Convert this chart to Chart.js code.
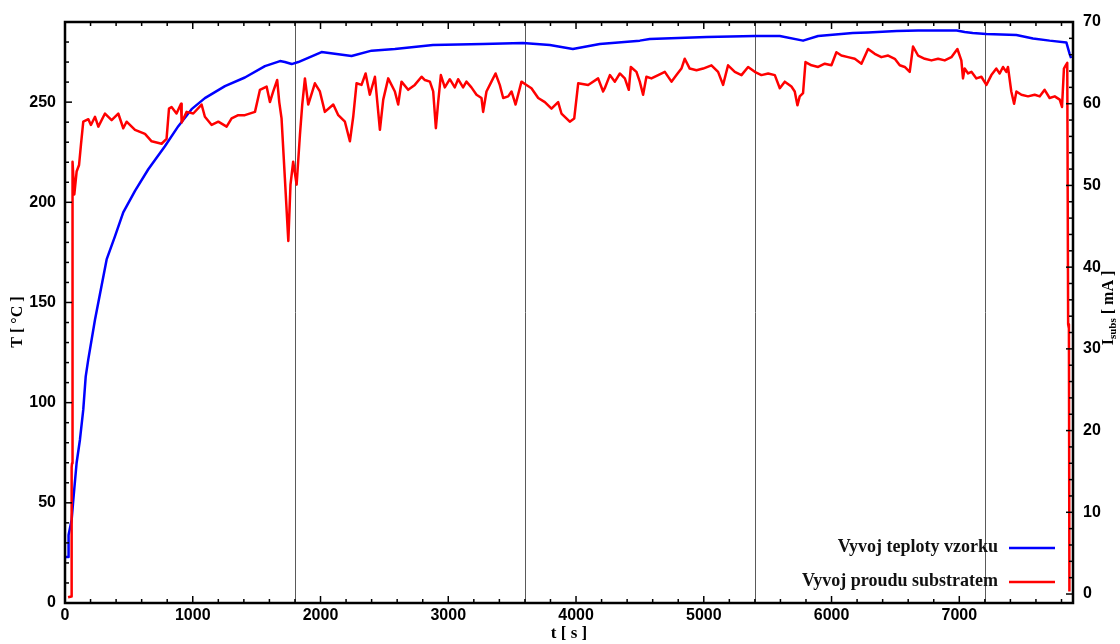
<!DOCTYPE html>
<html lang="cs">

<head>
    <meta charset="UTF-8">
    <title>Vyvoj teploty a proudu</title>
    <script src="https://cdn.jsdelivr.net/npm/chart.js"></script>
    <style>
        body {
            margin: 0;
            background: #fff;
        }
    </style>
</head>

<body>
    <canvas id="myChart" width="1120" height="644"></canvas>
</body>

</html>
<script>
    // teplota vzorku [°C]
    const tTemp = [0, 26, 28, 52, 65, 91, 117, 143, 162, 182, 235, 326, 391, 456, 548, 652, 782, 887, 991, 1095,
        1252, 1408, 1565, 1683, 1721, 1774, 1826, 2008, 2243, 2400, 2582, 2880, 3271, 3584, 3795, 3975, 4186,
        4499, 4577, 5023, 5399, 5595, 5777, 5895, 6166, 6286, 6510, 6677, 6980, 7042, 7105, 7212, 7447, 7577,
        7707, 7838, 7864, 7875];
    const temp = [23, 23, 34, 41.5, 51.5, 70, 81.5, 96.5, 113, 121.5, 141.5, 171.5, 183, 195, 205.7, 216.5, 228,
        238, 246.5, 252, 258, 262.3, 268, 270.5, 270, 269, 270, 275, 273, 275.7, 276.5, 278.5, 279, 279.5, 278.5,
        276.5, 279, 280.7, 281.5, 282.5, 283, 283, 280.7, 283, 284.5, 284.8, 285.5, 285.7, 285.8, 285, 284.5, 284,
        283.5, 281.8, 280.7, 279.8, 274, 272];

    // proud substratem [mA]
    const tCur = [24, 50, 52, 55, 58, 60, 73, 91, 110, 125, 143, 183, 203, 235, 261, 313, 365, 417, 456, 482,
        548, 626, 678, 756, 795, 814, 834, 873, 908, 913, 952, 1004, 1069, 1095, 1148, 1200, 1265, 1304, 1356,
        1408, 1487, 1526, 1578, 1604, 1630, 1661, 1677, 1695, 1721, 1748, 1765, 1786, 1813, 1839, 1857, 1878,
        1904, 1956, 1995, 2034, 2100, 2139, 2191, 2230, 2256, 2282, 2321, 2353, 2386, 2426, 2465, 2491, 2530,
        2582, 2608, 2634, 2686, 2738, 2791, 2817, 2856, 2882, 2903, 2921, 2942, 2973, 3012, 3051, 3077, 3116,
        3142, 3181, 3221, 3260, 3273, 3299, 3338, 3370, 3403, 3430, 3469, 3495, 3527, 3573, 3612, 3651, 3704,
        3756, 3808, 3860, 3886, 3951, 3986, 4017, 4095, 4173, 4212, 4225, 4265, 4304, 4343, 4382, 4413, 4429,
        4473, 4499, 4525, 4551, 4590, 4643, 4695, 4747, 4786, 4825, 4851, 4890, 4943, 4995, 5060, 5112, 5151,
        5190, 5243, 5295, 5347, 5399, 5451, 5504, 5556, 5595, 5634, 5686, 5712, 5733, 5751, 5777, 5796, 5843,
        5895, 5947, 5999, 6038, 6077, 6129, 6182, 6234, 6286, 6338, 6390, 6443, 6495, 6534, 6573, 6612, 6638,
        6677, 6730, 6782, 6834, 6886, 6938, 6985, 7016, 7029, 7042, 7069, 7095, 7134, 7173, 7212, 7251, 7290,
        7316, 7342, 7368, 7381, 7407, 7429, 7447, 7486, 7538, 7590, 7630, 7668, 7707, 7747, 7786, 7804, 7819,
        7833, 7845, 7852, 7858, 7862];
    const cur = [-0.4, -0.3, 15.5, 16, 40, 52.9, 48.9, 51.7, 52.5, 55, 57.8, 58.1, 57.4, 58.4, 57.2, 58.8, 58,
        58.8, 57, 57.8, 56.8, 56.3, 55.4, 55.1, 55.7, 59.4, 59.6, 58.8, 60, 57.7, 59, 58.8, 59.9, 58.4, 57.4,
        57.8, 57.2, 58.2, 58.6, 58.6, 59, 61.7, 62.1, 60.2, 61.5, 62.9, 60.2, 58.2, 50.9, 43.2, 50.1, 52.9, 50.1,
        56.2, 59.9, 63.1, 59.9, 62.5, 61.5, 59, 59.9, 58.6, 57.8, 55.4, 58.4, 62.5, 62.3, 63.7, 61.1, 63.3, 56.8,
        60.5, 63.1, 61.5, 59.9, 62.7, 61.7, 62.3, 63.3, 62.9, 62.7, 61.5, 57, 60.2, 63.5, 62, 63, 62, 63, 62,
        62.7, 62, 61.1, 60.7, 59, 61.5, 62.7, 63.7, 62.3, 60.7, 60.9, 61.5, 59.9, 62.7, 62.3, 61.9, 60.7, 60.2,
        59.4, 60.2, 58.8, 57.8, 58.2, 62.5, 62.3, 63.1, 61.5, 61.9, 63.5, 62.7, 63.7, 63.1, 61.7, 64.5, 63.9,
        62.7, 61.1, 63.3, 63.1, 63.5, 63.9, 62.7, 63.5, 64.3, 65.5, 64.3, 64.1, 64.3, 64.7, 63.9, 62.3, 64.7,
        63.9, 63.5, 64.5, 63.9, 63.5, 63.7, 63.5, 61.9, 62.7, 62.1, 61.5, 59.8, 60.9, 61.3, 65.1, 64.7, 64.5,
        64.9, 64.7, 66.3, 65.9, 65.7, 65.5, 64.9, 66.7, 66.1, 65.7, 65.9, 65.5, 64.7, 64.5, 63.9, 67, 65.9, 65.5,
        65.3, 65.5, 65.3, 65.7, 66.7, 65.3, 63.1, 64.3, 63.7, 63.9, 63.1, 63.3, 62.3, 63.5, 64.3, 63.7, 64.5,
        63.9, 64.5, 61.5, 60, 61.5, 61.1, 60.9, 61.1, 60.9, 61.7, 60.7, 60.9, 60.5, 59.6, 64.3, 64.7, 65, 33,
        32.5, 0.3];

    // popisky os
    const xTicks = [0, 1000, 2000, 3000, 4000, 5000, 6000, 7000];
    const yTicks = [0, 50, 100, 150, 200, 250];
    const y1Ticks = [0, 10, 20, 30, 40, 50, 60, 70];
    const hodiny = [1800, 3600, 5400, 7200];

    const tickFont = { family: '"Liberation Sans", Arial, sans-serif', size: 16, weight: 'bold' };
    const serif = '"Liberation Serif", "Times New Roman", serif';

    // svisle cary po hodinach
    const hourLines = {
        id: 'hourLines',
        beforeDatasetsDraw(chart) {
            const { ctx, chartArea: a, scales } = chart;
            ctx.save();
            ctx.strokeStyle = '#5a5a5a';
            ctx.lineWidth = 1;
            hodiny.forEach(h => {
                const px = Math.round(scales.x.getPixelForValue(h)) + 0.5;
                ctx.beginPath();
                ctx.moveTo(px, a.top);
                ctx.lineTo(px, a.bottom);
                ctx.stroke();
            });
            ctx.restore();
        }
    };

    // ramecek, vnitrni ticky, nazvy os a legenda
    const frame = {
        id: 'frame',
        afterDraw(chart) {
            const { ctx, chartArea: a, scales } = chart;
            const line = (x1, y1, x2, y2) => {
                ctx.beginPath();
                ctx.moveTo(x1, y1);
                ctx.lineTo(x2, y2);
                ctx.stroke();
            };
            ctx.save();
            ctx.strokeStyle = '#000';
            ctx.lineWidth = 1.5;

            for (let v = 0; v <= scales.x.max; v += 200) {
                const px = scales.x.getPixelForValue(v);
                const len = v % 1000 === 0 ? 7 : 4;
                line(px, a.bottom, px, a.bottom - len);
                line(px, a.top, px, a.top + len);
            }
            for (let v = 0; v <= scales.y.max; v += 10) {
                const py = scales.y.getPixelForValue(v);
                line(a.left, py, a.left + (v % 50 === 0 ? 7 : 4), py);
            }
            for (let v = 0; v <= scales.y1.max; v += 2) {
                const py = scales.y1.getPixelForValue(v);
                line(a.right, py, a.right - (v % 10 === 0 ? 7 : 4), py);
            }

            ctx.lineWidth = 2.5;
            ctx.strokeRect(a.left, a.top, a.right - a.left, a.bottom - a.top);

            // nazvy os
            ctx.fillStyle = '#000';
            ctx.font = 'bold 17px ' + serif;
            ctx.textAlign = 'center';
            ctx.textBaseline = 'middle';
            ctx.fillText('t [ s ]', (a.left + a.right) / 2, 634);

            ctx.save();
            ctx.translate(18, 322);
            ctx.rotate(-Math.PI / 2);
            ctx.font = 'bold 16px ' + serif;
            ctx.fillText('T [ °C ]', 0, 0);
            ctx.restore();

            ctx.save();
            ctx.translate(1109, 308);
            ctx.rotate(-Math.PI / 2);
            ctx.textAlign = 'left';
            ctx.font = 'bold 16px ' + serif;
            const wI = ctx.measureText('I').width;
            const wRest = ctx.measureText(' [ mA ]').width;
            ctx.font = 'bold 11px ' + serif;
            const wSub = ctx.measureText('subs').width;
            let x0 = -(wI + wSub + wRest) / 2;
            ctx.font = 'bold 16px ' + serif;
            ctx.fillText('I', x0, 0);
            ctx.font = 'bold 11px ' + serif;
            ctx.fillText('subs', x0 + wI, 4);
            ctx.font = 'bold 16px ' + serif;
            ctx.fillText(' [ mA ]', x0 + wI + wSub, 0);
            ctx.restore();

            // legenda
            const items = [
                ['Vyvoj teploty vzorku', '#0000ff', 547],
                ['Vyvoj proudu substratem', '#ff0000', 581]
            ];
            ctx.textAlign = 'right';
            ctx.font = 'bold 18px ' + serif;
            items.forEach(([txt, col, y]) => {
                ctx.fillStyle = '#111';
                ctx.fillText(txt, 998, y);
                ctx.strokeStyle = col;
                ctx.lineWidth = 2.5;
                line(1009, y + 1, 1055, y + 1);
            });
            ctx.restore();
        }
    };

    const ctx = document.getElementById('myChart').getContext('2d');

    new Chart(ctx, {
        type: 'line',
        data: {
            datasets: [
                {
                    label: 'Vyvoj proudu substratem',
                    data: tCur.map((t, i) => ({ x: t, y: cur[i] })),
                    borderColor: '#ff0000',
                    borderWidth: 2.5,
                    yAxisID: 'y1',
                },
                {
                    label: 'Vyvoj teploty vzorku',
                    data: tTemp.map((t, i) => ({ x: t, y: temp[i] })),
                    borderColor: '#0000ff',
                    borderWidth: 2.5,
                    yAxisID: 'y',
                }
            ]
        },
        options: {
            responsive: false,
            animation: false,
            layout: { padding: { top: 22 } },
            elements: {
                point: { radius: 0 },
                line: { tension: 0, borderJoinStyle: 'round' }
            },
            plugins: {
                legend: { display: false },
                tooltip: { enabled: false }
            },
            scales: {
                x: {
                    type: 'linear',
                    min: 0,
                    max: 7890,
                    grid: { display: false, drawTicks: false },
                    border: { display: false },
                    ticks: { font: tickFont, color: '#000', padding: 3, maxRotation: 0, callback: v => String(v) },
                    afterBuildTicks: s => { s.ticks = xTicks.map(v => ({ value: v })); },
                    afterFit: s => { s.height = 41; }
                },
                y: {
                    position: 'left',
                    min: 0,
                    max: 290,
                    grid: { display: false, drawTicks: false },
                    border: { display: false },
                    ticks: { font: tickFont, color: '#000', padding: 9, callback: v => String(v) },
                    afterBuildTicks: s => { s.ticks = yTicks.map(v => ({ value: v })); },
                    afterFit: s => { s.width = 65; }
                },
                y1: {
                    position: 'right',
                    min: -1.1,
                    max: 70,
                    grid: { display: false, drawTicks: false },
                    border: { display: false },
                    ticks: { font: tickFont, color: '#000', padding: 10, callback: v => String(v) },
                    afterBuildTicks: s => { s.ticks = y1Ticks.map(v => ({ value: v })); },
                    afterFit: s => { s.width = 47; }
                }
            }
        },
        plugins: [hourLines, frame]
    });
</script>
